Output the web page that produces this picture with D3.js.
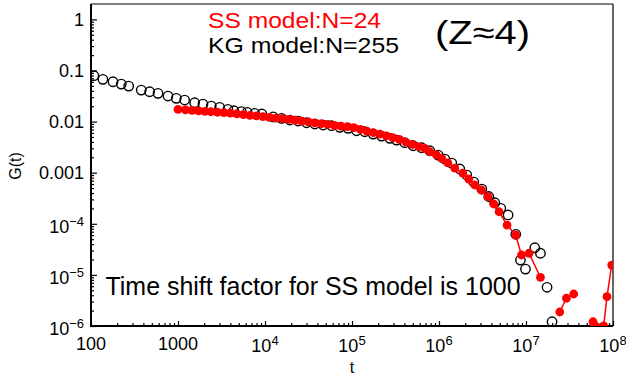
<!DOCTYPE html>
<html><head><meta charset="utf-8">
<script src="https://cdn.jsdelivr.net/npm/d3@7"></script>
<style>
body{margin:0;background:#fff}
svg{display:block}
text{font-family:"Liberation Sans",Arial,sans-serif;fill:#000}
</style>
</head><body>
<svg id="c" width="626" height="384"></svg>
<script>
// KG model (N=255): open black circles
const kgT = [108, 137, 179, 223, 271, 378, 472, 589, 767, 955, 1192, 1553, 1935, 2411, 3009, 3749, 4395, 5333, 6250, 7600, 9210,
  12420, 15520, 19320, 24050, 30050, 37430, 46650, 58230, 72470, 90290, 112800, 140500, 175000, 218400, 272100, 325000,
  404700, 504800, 630000, 784000, 977000, 1167000, 1403000, 1735000, 2086000, 2512000, 3105000, 3735000, 4379000, 5131000,
  6224000, 7627000, 8634000, 9860000, 12620000, 14660000, 17460000, 19920000];
const kgG = [0.079, 0.0670, 0.0602, 0.0542, 0.0495, 0.0414, 0.0384, 0.0357, 0.0316, 0.0285, 0.0264, 0.0234, 0.0220, 0.0201, 0.0190, 0.0174, 0.0163, 0.0157, 0.0152, 0.0145, 0.0141,
  0.0124, 0.01157, 0.01072, 0.01025, 0.00949, 0.00895, 0.00856, 0.00830, 0.00771, 0.00738, 0.00662, 0.00633, 0.00570, 0.00521, 0.00470, 0.00435,
  0.00386, 0.00337, 0.00308, 0.00269, 0.00221, 0.00185, 0.00154, 0.00118, 0.000900, 0.000656, 0.000479, 0.000342, 0.000258, 0.000201,
  0.000149, 6.23e-5, 1.95e-5, 1.30e-5, 3.40e-5, 2.65e-5, 5.72e-6, 1.21e-6];

// SS model (N=24), time shifted by 1000: filled red circles with line (null = gap)
const ssT = [1000, 1220, 1450, 1720, 2040, 2390, 2840, 3370, 4000, 4760, 5650, 6710, 7970, 9460,
  11240, 13340, 15850, 18820, 22350, 26540, 31520, 37430, 44460, 52800, 62700, 74470, 88450,
  105000, 124700, 148100, 175900, 208900, 248100, 294600, 349900, 415600, 493500, 586100, 687100, 784000, 936000,
  1077000, 1262000, 1519000, 1877000, 2199000, 2578000, 3077000, 3665000, 4262000, 4902000, 6058000, 7627000, 8867000,
  10840000, 14660000, 19000000, 24420000, 29150000, 35370000, 45000000, 58900000, 61650000, 78200000, 85300000, 96600000];
const ssG = [0.01736, 0.01697, 0.01659, 0.01615, 0.01586, 0.01558, 0.01523, 0.01496, 0.01462, 0.01417, 0.01367, 0.01325, 0.01295, 0.01255,
  0.01210, 0.01173, 0.01141, 0.01101, 0.01062, 0.01025, 0.00984, 0.00945, 0.00912, 0.00879, 0.00844, 0.00818, 0.00796,
  0.00761, 0.00705, 0.00653, 0.00610, 0.00571, 0.00526, 0.00485, 0.00447, 0.00398, 0.00356, 0.00323, 0.00300, 0.00257, 0.00222,
  0.00189, 0.00155, 0.00123, 0.000985, 0.000752, 0.000574, 0.000458, 0.000339, 0.000244, 0.000172, 9.46e-5, 6.03e-5, 2.45e-5,
  2.65e-5, 8.98e-6, null, 1.88e-6, 3.49e-6, 4.23e-6, null, 1.21e-6, 1.03e-6, 1.01e-6, 3.75e-6, 1.56e-5];

const xTickValues = [100, 1000, 1e4, 1e5, 1e6, 1e7, 1e8];
const xTickLabels = [["100",""], ["1000",""], ["10","4"], ["10","5"], ["10","6"], ["10","7"], ["10","8"]];
const yTickValues = [1, 0.1, 0.01, 0.001, 1e-4, 1e-5, 1e-6];
const yTickLabels = [["1",""], ["0.1",""], ["0.01",""], ["0.001",""], ["10","\u22124"], ["10","\u22125"], ["10","\u22126"]];

const legendSS = "SS model:N=24";
const legendKG = "KG model:N=255";
const noteZ = "(Z\u22484)";
const noteShift = "Time shift factor for SS model is 1000";
const xTitle = "t";
const yTitle = "G(t)";

const M = {l: 91, r: 613, t: 4, b: 326};
const svg = d3.select("#c");
const x = d3.scaleLog().domain([100, 1e8]).range([M.l, M.r]);
const y = d3.scaleLog().domain([1e-6, 2]).range([M.b, M.t]);

svg.append("defs").append("clipPath").attr("id", "pc")
  .append("rect").attr("x", M.l).attr("y", M.t).attr("width", M.r - M.l).attr("height", M.b - M.t);

// minor ticks
const xMinor = [];
[100, 1000, 1e4, 1e5, 1e6, 1e7].forEach(d => { for (let k = 2; k <= 9; k++) xMinor.push(d * k); });
const yMinor = [];
[1e-6, 1e-5, 1e-4, 1e-3, 1e-2, 1e-1].forEach(d => { for (let k = 2; k <= 9; k++) yMinor.push(d * k); });

const gx = svg.append("g").attr("transform", `translate(0,${M.b})`);
gx.call(d3.axisBottom(x).tickValues(xMinor).tickSize(-3).tickSizeOuter(0).tickFormat(""));
gx.call(g => g.select(".domain").remove());
const gx2 = svg.append("g").attr("transform", `translate(0,${M.b})`);
gx2.call(d3.axisBottom(x).tickValues(xTickValues).tickSize(-5).tickSizeOuter(0).tickFormat(""));
gx2.call(g => g.select(".domain").remove());

const gy = svg.append("g").attr("transform", `translate(${M.l},0)`);
gy.call(d3.axisLeft(y).tickValues(yMinor).tickSize(-3).tickSizeOuter(0).tickFormat(""));
gy.call(g => g.select(".domain").remove());
const gy2 = svg.append("g").attr("transform", `translate(${M.l},0)`);
gy2.call(d3.axisLeft(y).tickValues(yTickValues).tickSize(-6).tickSizeOuter(0).tickFormat(""));
gy2.call(g => g.select(".domain").remove());
svg.selectAll(".tick line").attr("stroke", "#000").attr("stroke-width", 1.2);

// frame
svg.append("line").attr("x1", M.l).attr("x2", M.r).attr("y1", M.t).attr("y2", M.t).attr("stroke", "#000").attr("stroke-width", 1.2);
svg.append("line").attr("x1", M.r).attr("x2", M.r).attr("y1", M.t).attr("y2", M.b).attr("stroke", "#000").attr("stroke-width", 1.2);
svg.append("line").attr("x1", M.l).attr("x2", M.l).attr("y1", M.t).attr("y2", M.b + 1).attr("stroke", "#000").attr("stroke-width", 2);
svg.append("line").attr("x1", M.l - 1).attr("x2", M.r).attr("y1", M.b).attr("y2", M.b).attr("stroke", "#000").attr("stroke-width", 2);

// tick labels
xTickValues.forEach((v, i) => {
  const [base, sup] = xTickLabels[i];
  const t = svg.append("text").attr("x", x(v)).attr("y", sup ? 351.5 : 350)
    .attr("text-anchor", "middle").attr("font-size", 18);
  t.append("tspan").text(base);
  if (sup) t.append("tspan").attr("font-size", 13).attr("dy", -6.5).text(sup);
});
yTickValues.forEach((v, i) => {
  const [base, sup] = yTickLabels[i];
  const t = svg.append("text").attr("x", 84).attr("y", y(v) + (sup ? 9 : 6.3))
    .attr("text-anchor", "end").attr("font-size", 18);
  t.append("tspan").text(base);
  if (sup) t.append("tspan").attr("font-size", 13).attr("dy", -6.7).text(sup);
});

// axis titles
svg.append("text").attr("x", 352).attr("y", 373).attr("text-anchor", "middle").attr("font-size", 16).text(xTitle);
svg.append("text").attr("transform", "translate(21,166) rotate(-90)").attr("text-anchor", "middle").attr("font-size", 16).text(yTitle);

// data
const plot = svg.append("g").attr("clip-path", "url(#pc)");
const kg = kgT.map((t, i) => ({t, g: kgG[i]}));
const ss = ssT.map((t, i) => ({t, g: ssG[i]}));

plot.selectAll("circle.kg").data(kg).join("circle").attr("class", "kg")
  .attr("cx", d => x(d.t)).attr("cy", d => y(d.g)).attr("r", 4.7)
  .attr("fill", "none").attr("stroke", "#000").attr("stroke-width", 1.4);

const line = d3.line().defined(d => d.g != null).x(d => x(d.t)).y(d => y(d.g));
plot.append("path").datum(ss).attr("d", line).attr("fill", "none").attr("stroke", "#ff0000").attr("stroke-width", 1.5);
plot.selectAll("circle.ss").data(ss.filter(d => d.g != null)).join("circle").attr("class", "ss")
  .attr("cx", d => x(d.t)).attr("cy", d => y(d.g)).attr("r", 4.4)
  .attr("fill", "#ff0000");

// annotations
svg.append("text").attr("x", 208).attr("y", 27.5).attr("font-size", 22).style("fill", "#ff0000")
  .attr("textLength", 173).attr("lengthAdjust", "spacingAndGlyphs").text(legendSS);
svg.append("text").attr("x", 208).attr("y", 53).attr("font-size", 22)
  .attr("textLength", 191).attr("lengthAdjust", "spacingAndGlyphs").text(legendKG);
svg.append("text").attr("x", 435).attr("y", 44).attr("font-size", 33)
  .attr("textLength", 95).attr("lengthAdjust", "spacingAndGlyphs").text(noteZ);
svg.append("text").attr("x", 105.5).attr("y", 295).attr("font-size", 25)
  .attr("textLength", 415).attr("lengthAdjust", "spacingAndGlyphs").text(noteShift);
</script>
</body></html>
